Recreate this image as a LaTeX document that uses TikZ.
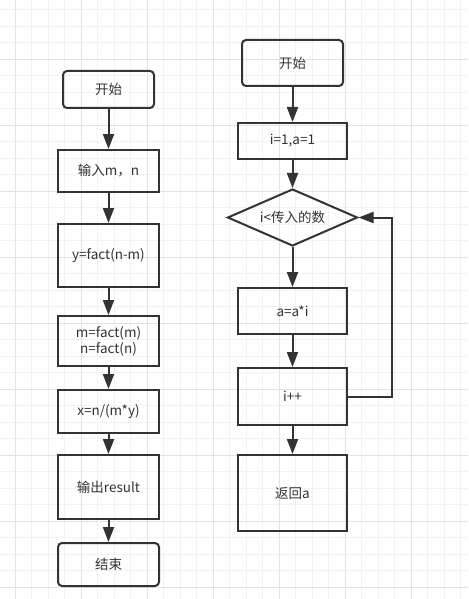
\documentclass[tikz,border=0pt]{standalone}
\usepackage{fontspec}
\newfontfamily\cjk{Noto Sans CJK SC}
\usetikzlibrary{shapes.geometric,arrows.meta,positioning}
\definecolor{ink}{HTML}{333333}
\definecolor{gridmin}{HTML}{F2F2F2}
\definecolor{gridmaj}{HTML}{E2E2E2}

\begin{document}
\begin{tikzpicture}[
    x=1pt, y=-1pt,
    font=\cjk\fontsize{13.5}{16}\selectfont,
    box/.style={rectangle, draw=ink, line width=2pt, text=ink, align=center, inner sep=0pt, minimum width=101pt},
    term/.style={box, rounded corners=4pt},
    cond/.style={diamond, aspect=2.5, draw=ink, line width=2pt, text=ink, inner sep=0pt, minimum width=130pt, minimum height=57pt},
    arrow/.style={->,>={Triangle[length=15pt,width=11pt]},draw=ink,line width=2pt}
]

% Background grid
\useasboundingbox (0,0) rectangle (468,599);
\fill[white] (0,0) rectangle (468,599);
\foreach \k in {-1,...,28} {\draw[gridmin, line width=0.8pt] ({15+16.5*\k},0) -- ++(0,599);}
\foreach \k in {-4,...,33} {\draw[gridmin, line width=0.8pt] (0,{59+16.5*\k}) -- ++(468,0);}
\foreach \k in {0,...,6} {\draw[gridmaj, line width=0.8pt] ({15+66*\k},0) -- ++(0,599);}
\foreach \k in {0,...,8} {\draw[gridmaj, line width=0.8pt] (0,{59+66*\k}) -- ++(468,0);}

% Main program
\node[term, minimum width=91pt, minimum height=37pt] (start1) at (108.5,89.5) {开始};
\node[box, minimum height=42pt] (input) [below=40pt of start1] {输入m，n};
\node[box, minimum height=63pt] (yfact) [below=30pt of input] {y=fact(n-m)};
\node[box, minimum height=50pt] (mnfact) [below=27pt of yfact] {m=fact(m)\\ n=fact(n)};
\node[box, minimum height=43pt] (xcalc) [below=22pt of mnfact] {x=n/(m*y)};
\node[box, minimum height=64pt] (output) [below=20pt of xcalc] {输出result};
\node[term, minimum height=43pt] (end1) [below=22pt of output] {结束};

% fact function
\node[term, minimum height=46pt] (start2) at (292.5,63) {开始};
\node[box, minimum width=109pt, minimum height=36pt] (init) [below=35pt of start2] {i=1,a=1};
\node[cond] (test) [below=28pt of init] {i<传入的数};
\node[box, minimum width=109pt, minimum height=46pt] (mult) [below=40pt of test] {a=a*i};
\node[box, minimum width=109pt, minimum height=57pt] (incr) [below=32pt of mult] {i++};
\node[box, minimum width=109pt, minimum height=76pt] (ret) [below=28pt of incr] {返回a};

% Arrows
\foreach \i/\j in {start1/input, input/yfact, yfact/mnfact, mnfact/xcalc, xcalc/output, output/end1, start2/init, init/test, test/mult, mult/incr, incr/ret} {
    \draw[arrow] (\i) -- (\j);
}
\draw[arrow] (incr.east) -- ++(44,0) |- (test.east);

\end{tikzpicture}
\end{document}
